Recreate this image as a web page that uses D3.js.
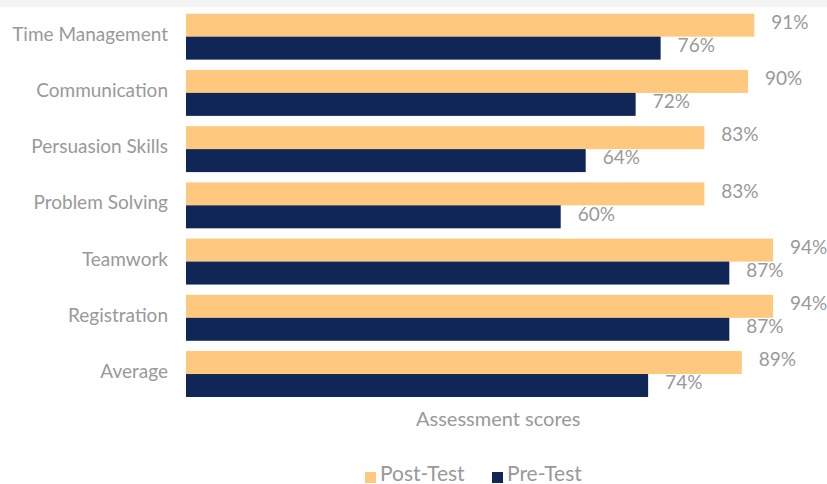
<!DOCTYPE html>
<html>
<head>
<meta charset="utf-8">
<script src="https://cdn.jsdelivr.net/npm/d3@7.9.0/dist/d3.min.js"></script>
<style>
  body { margin: 0; background: #fff; }
  svg { display: block; font-family: Lato, "Open Sans", sans-serif; }
</style>
</head>
<body>
<svg id="chart" width="827" height="484"></svg>
<script>
const categories = ['Time Management', 'Communication', 'Persuasion Skills', 'Problem Solving', 'Teamwork', 'Registration', 'Average'];
const postTest = [91, 90, 83, 83, 94, 94, 89];
const preTest = [76, 72, 64, 60, 87, 87, 74];
const seriesNames = ['Post-Test', 'Pre-Test'];

const colors = { 'Post-Test': '#fec87e', 'Pre-Test': '#0f2656' };
const textColor = '#999999';

const svg = d3.select('#chart');

const x = d3.scaleLinear().domain([0, 100]).range([186, 810.5]);

const y = d3.scaleBand()
  .domain(categories)
  .range([8.55, 402.15])
  .paddingInner(0.183)
  .paddingOuter(0.0915);

const ySub = d3.scaleBand()
  .domain(seriesNames)
  .range([0, y.bandwidth()]);

let rows = categories.map((c, i) => {
  return { cat: c, values: [
    { key: 'Post-Test', value: postTest[i] },
    { key: 'Pre-Test', value: preTest[i] },
  ] };
});

let groups = svg.selectAll('g.row')
  .data(rows)
  .join('g')
  .attr('class', 'row')
  .attr('transform', (d) => `translate(0, ${y(d.cat)})`);

groups.selectAll('rect')
  .data((d) => d.values)
  .join('rect')
  .attr('x', x(0))
  .attr('y', (d) => ySub(d.key))
  .attr('width', (d) => x(d.value) - x(0))
  .attr('height', ySub.bandwidth())
  .attr('fill', (d) => colors[d.key]);

groups.selectAll('text.val')
  .data((d) => d.values)
  .join('text')
  .attr('class', 'val')
  .attr('x', (d) => x(d.value) + 17)
  .attr('y', (d) => ySub(d.key) + ySub.bandwidth() / 2 - 1)
  .attr('dominant-baseline', 'middle')
  .attr('fill', textColor)
  .attr('font-size', 19)
  .text((d) => d.value + '%');

// category labels
svg.selectAll('text.cat')
  .data(categories)
  .join('text')
  .attr('class', 'cat')
  .attr('x', 168)
  .attr('y', (d) => y(d) + y.bandwidth() / 2 + 4)
  .attr('text-anchor', 'end')
  .attr('fill', textColor)
  .attr('font-size', 19)
  .text((d) => d);

svg.append('text')
  .attr('x', (x(0) + x(100)) / 2)
  .attr('y', 426)
  .attr('text-anchor', 'middle')
  .attr('fill', textColor)
  .attr('font-size', 20)
  .text('Assessment scores');

// legend
const legendX = [365, 492];
seriesNames.forEach((name, i) => {
  let g = svg.append('g').attr('transform', `translate(${legendX[i]}, 482)`);
  g.append('rect')
    .attr('x', 0).attr('y', -10)
    .attr('width', 11).attr('height', 11)
    .attr('fill', colors[name]);
  g.append('text')
    .attr('x', 15)
    .attr('y', -1)
    .attr('fill', textColor)
    .attr('font-size', 21)
    .text(name);
});

// light band across the top edge
svg.append('rect')
  .attr('x', 0).attr('y', 0)
  .attr('width', 827).attr('height', 7)
  .attr('fill', '#f4f4f4');
</script>
</body>
</html>
